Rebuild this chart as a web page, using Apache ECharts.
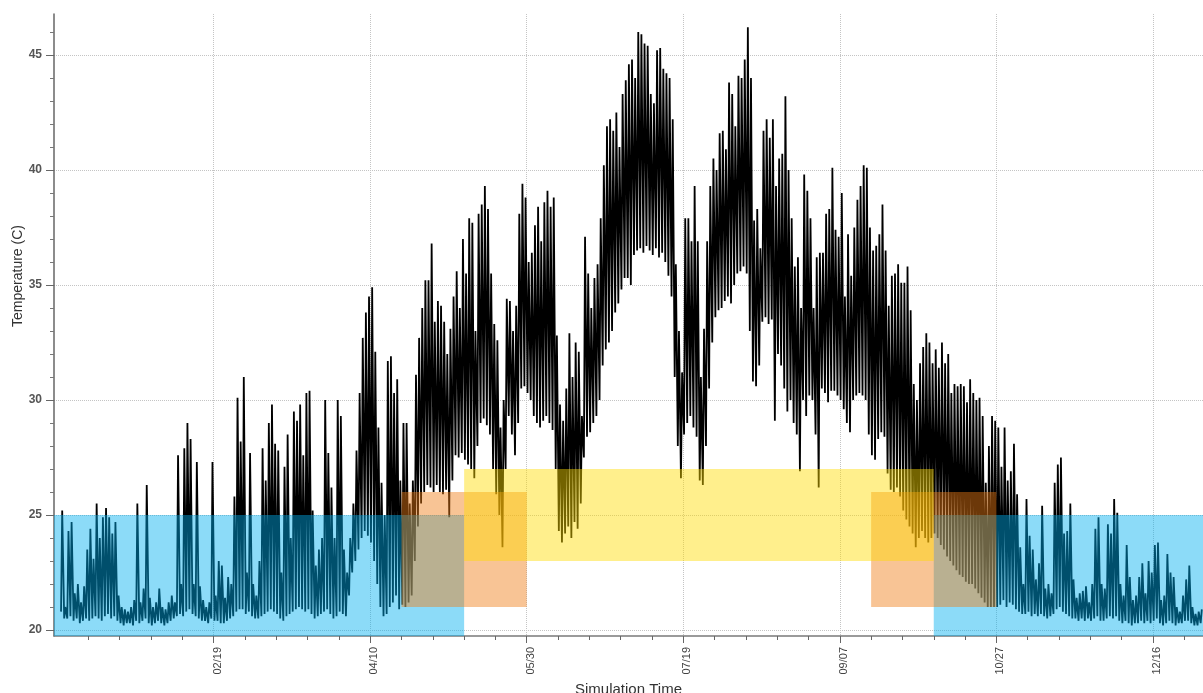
<!DOCTYPE html>
<html>
<head>
<meta charset="utf-8">
<script src="https://cdn.jsdelivr.net/npm/echarts@6/dist/echarts.min.js"></script>
<style>
  html, body { margin: 0; padding: 0; background: #ffffff; }
  #chart { width: 1203px; height: 693px; }
</style>
</head>
<body>
<div id="chart"></div>
<script>
// Zone air temperature, daily minimum and maximum (°C); index 0 = 1 January
const dailyMin = [
  20.8, 20.5, 20.5, 20.6, 20.4, 20.5, 20.3, 20.4, 20.5, 20.4,
  20.5, 20.6, 20.5, 20.4, 20.6, 20.7, 20.5, 20.6, 20.4, 20.3,
  20.2, 20.3, 20.3, 20.2, 20.4, 20.3, 20.4, 20.5, 20.3, 20.2,
  20.3, 20.4, 20.3, 20.2, 20.3, 20.4, 20.5, 20.6, 20.7, 20.6,
  20.8, 20.9, 20.7, 20.6, 20.5, 20.4, 20.4, 20.3, 20.5, 20.4,
  20.4, 20.3, 20.3, 20.4, 20.5, 20.6, 20.8, 20.9, 20.9, 20.7,
  20.8, 20.6, 20.5, 20.5, 20.6, 20.7, 20.8, 20.9, 20.8, 20.7,
  20.5, 20.4, 20.6, 20.7, 20.8, 20.9, 21.0, 20.9, 20.8, 20.9,
  20.7, 20.5, 20.6, 20.7, 20.8, 20.9, 20.7, 20.5, 20.6, 20.8,
  20.7, 20.6, 21.5, 22.5, 23.0, 23.5, 24.0, 24.3, 24.1, 23.8,
  23.0, 22.0, 21.0, 20.6, 20.7, 21.0, 21.2, 21.5, 20.9, 21.1,
  21.0, 21.2, 21.5, 23.0, 24.5, 25.5, 26.0, 26.3, 26.2, 26.0,
  26.3, 26.0, 25.9, 26.1, 24.9, 26.5, 27.6, 27.5, 27.7, 27.4,
  27.2, 27.0, 26.6, 28.0, 29.0, 29.2, 28.9, 28.5, 27.0, 25.9,
  25.0, 23.6, 27.0, 29.3, 28.5, 27.6, 29.0, 30.5, 30.6, 30.3,
  30.0, 29.3, 29.0, 28.8, 29.1, 29.3, 29.0, 28.7, 27.0, 24.3,
  23.8, 24.2, 24.5, 24.0, 24.7, 24.4, 25.5, 27.5, 28.4, 28.6,
  29.0, 29.3, 30.0, 31.5, 32.2, 32.5, 33.0, 33.8, 34.2, 34.8,
  35.3, 35.3, 35.0, 36.3, 36.5, 36.6, 36.4, 36.7, 36.5, 36.3,
  36.6, 36.2, 36.4, 36.0, 35.4, 34.5, 31.0, 28.0, 26.6, 28.5,
  29.0, 29.3, 28.8, 28.4, 26.5, 26.3, 28.0, 30.5, 32.5, 33.6,
  33.9, 34.0, 34.3, 34.5, 34.2, 35.0, 35.5, 35.6, 35.8, 35.5,
  33.0, 30.8, 30.6, 31.5, 33.4, 33.6, 33.3, 33.5, 29.1, 32.0,
  31.5, 30.5, 29.5, 30.0, 29.0, 28.5, 26.9, 30.0, 29.3, 30.2,
  30.0, 28.5, 26.2, 30.5, 30.3, 29.9, 30.4, 30.4, 30.2, 30.0,
  29.6, 29.0, 28.6, 30.0, 30.2, 30.3, 30.2, 30.0, 28.5, 27.6,
  27.4, 28.3, 28.6, 28.4, 26.8, 26.1, 26.0, 26.2, 25.8, 25.2,
  24.8, 24.5, 24.2, 23.6, 24.0, 24.3, 24.0, 23.8, 24.0, 24.2,
  24.0, 23.7, 23.5, 23.2, 23.0, 22.8, 22.6, 22.4, 22.3, 22.1,
  22.0, 22.0, 21.8, 21.6, 21.4, 21.2, 21.0, 21.0, 21.0, 21.0,
  21.1, 21.3, 21.0, 21.2, 21.1, 20.9, 20.8, 20.7, 20.7, 20.8,
  20.6, 20.7, 20.6, 20.7, 20.6, 20.5, 20.6, 20.7, 20.9, 21.0,
  20.8, 20.7, 20.6, 20.5, 20.5, 20.4, 20.5, 20.4, 20.5, 20.4,
  20.5, 20.6, 20.4, 20.4, 20.5, 20.6, 20.5, 20.6, 20.4, 20.3,
  20.4, 20.3, 20.2, 20.3, 20.3, 20.4, 20.3, 20.4, 20.3, 20.4,
  20.5, 20.3, 20.2, 20.3, 20.4, 20.3, 20.2, 20.3, 20.3, 20.4,
  20.4, 20.3, 20.2, 20.2, 20.3
];

const dailyMax = [
  25.2, 21.0, 24.3, 24.7, 21.6, 22.0, 21.2, 21.9, 23.5, 24.4,
  23.1, 25.5, 24.0, 24.9, 25.3, 24.9, 24.2, 24.7, 21.5, 21.0,
  20.9, 20.8, 21.0, 21.3, 25.5, 21.2, 21.8, 26.3, 21.4, 21.0,
  21.2, 21.8, 21.0, 20.9, 21.2, 21.5, 21.2, 27.6, 22.0, 27.9,
  29.0, 28.3, 22.0, 27.3, 21.9, 21.3, 21.0, 21.2, 27.3, 21.5,
  23.0, 22.8, 21.4, 22.3, 22.0, 25.8, 30.1, 28.2, 31.0, 22.5,
  27.7, 22.0, 21.5, 23.0, 27.9, 26.5, 29.0, 29.8, 28.1, 27.8,
  22.5, 27.1, 28.5, 24.0, 29.5, 29.1, 29.8, 27.6, 30.3, 30.4,
  25.2, 22.8, 23.5, 24.0, 30.0, 27.7, 26.2, 24.0, 30.0, 29.3,
  23.5, 22.5, 24.0, 25.5, 27.8, 30.3, 32.7, 33.8, 34.5, 34.9,
  32.1, 28.8, 26.4, 25.0, 31.7, 31.9, 30.3, 30.9, 26.5, 29.0,
  29.0, 25.5, 26.5, 31.1, 32.7, 34.0, 35.2, 35.2, 36.8, 33.4,
  34.3, 34.1, 33.4, 32.0, 33.1, 34.5, 35.6, 34.0, 37.0, 35.5,
  37.9, 37.7, 33.0, 38.1, 38.5, 39.3, 38.3, 35.5, 33.3, 32.6,
  28.8, 30.0, 34.4, 34.3, 33.0, 34.1, 38.1, 39.4, 38.8, 36.0,
  36.4, 37.6, 38.4, 36.9, 38.6, 39.1, 38.4, 38.8, 32.8, 29.8,
  29.1, 30.5, 32.9, 31.0, 32.5, 32.1, 29.3, 37.1, 35.5, 34.0,
  35.3, 35.9, 37.9, 40.2, 41.9, 42.2, 41.7, 42.5, 41.0, 43.3,
  43.9, 44.6, 44.8, 44.0, 46.0, 45.9, 45.5, 45.4, 43.3, 42.9,
  45.2, 45.3, 44.4, 44.2, 44.0, 42.2, 35.9, 33.0, 31.2, 37.9,
  37.9, 36.9, 39.3, 36.9, 31.0, 33.1, 36.9, 39.3, 40.5, 40.0,
  41.6, 41.7, 40.9, 43.8, 43.3, 41.9, 44.1, 44.0, 44.8, 46.2,
  44.0, 37.8, 38.3, 36.6, 41.7, 42.2, 41.4, 42.2, 39.3, 40.5,
  40.7, 43.2, 40.0, 37.9, 35.8, 36.2, 34.0, 39.8, 39.1, 37.9,
  34.0, 36.2, 36.4, 36.4, 38.1, 38.3, 40.1, 37.4, 37.1, 39.0,
  34.5, 37.2, 35.4, 37.5, 38.7, 39.3, 40.2, 40.1, 37.5, 36.5,
  36.7, 37.2, 38.5, 36.5, 34.1, 35.4, 35.5, 35.9, 35.1, 35.1,
  35.8, 33.9, 30.7, 30.0, 31.6, 32.3, 32.9, 32.5, 31.6, 32.2,
  31.4, 32.5, 31.6, 32.0, 30.3, 30.7, 30.6, 30.7, 30.6, 29.9,
  30.9, 30.3, 30.0, 30.1, 29.3, 26.4, 28.0, 29.3, 29.1, 28.8,
  27.1, 28.8, 26.5, 26.9, 28.1, 25.9, 23.6, 22.0, 25.7, 24.1,
  23.5, 22.2, 22.9, 25.4, 21.8, 22.0, 21.6, 26.4, 27.2, 27.5,
  24.2, 24.3, 25.5, 22.2, 21.4, 21.6, 21.7, 21.9, 21.2, 22.0,
  24.4, 24.9, 22.0, 21.8, 24.6, 24.2, 25.7, 25.1, 22.0, 21.5,
  23.7, 22.3, 21.3, 21.5, 22.3, 22.9, 21.6, 23.0, 22.5, 23.7,
  23.8, 21.3, 21.5, 23.3, 22.5, 22.3, 21.0, 20.8, 21.5, 22.2,
  22.8, 21.0, 20.7, 20.8, 20.9
];

// Time axis in days since 1 January 00:00
const X_MIN = -2;
const X_MAX = 365;
const xTickDays = [49, 99, 149, 199, 249, 299, 349];
const xTickLabels = ['02/19', '04/10', '05/30', '07/19', '09/07', '10/27', '12/16'];
const xMinorDays = [9, 19, 29, 39, 59, 69, 79, 89, 109, 119, 129, 139, 159, 169, 179, 189,
  209, 219, 229, 239, 259, 269, 279, 289, 309, 319, 329, 339, 359];

// Temperature axis (°C)
const Y_MIN = 19.74;
const Y_MAX = 46.78;
const yTickValues = [20, 25, 30, 35, 40, 45];
const yMinorValues = [21, 22, 23, 24, 26, 27, 28, 29, 31, 32, 33, 34, 36, 37, 38, 39, 41, 42, 43, 44, 46];

// Comfort bands: [start day, end day, lower °C, upper °C]
const heatingBands = [[X_MIN, 129, Y_MIN, 25], [279, X_MAX, Y_MIN, 25]];
const transitionBands = [[109, 149, 21, 26], [259, 299, 21, 26]];
const coolingBands = [[129, 279, 23, 27]];

// Each day traced as its early-morning low followed by its afternoon high
const tempSeries = [];
for (let d = 0; d < dailyMin.length; d++) {
  tempSeries.push([d + 0.25, dailyMin[d]]);
  tempSeries.push([d + 0.62, dailyMax[d]]);
}

function bandRenderer(fill) {
  return function (params, api) {
    const p0 = api.coord([api.value(0), api.value(3)]);
    const p1 = api.coord([api.value(1), api.value(2)]);
    return {
      type: 'rect',
      shape: { x: p0[0], y: p0[1], width: p1[0] - p0[0], height: p1[1] - p0[1] },
      style: { fill: fill }
    };
  };
}

function bandSeries(name, data, fill, z) {
  return {
    name: name,
    type: 'custom',
    xAxisIndex: 0,
    yAxisIndex: 0,
    z: z,
    silent: true,
    renderItem: bandRenderer(fill),
    encode: { x: [0, 1], y: [2, 3] },
    data: data
  };
}

const FONT = '"Liberation Sans", Arial, sans-serif';
const chart = echarts.init(document.getElementById('chart'), null, { renderer: 'canvas' });

chart.setOption({
  animation: false,
  backgroundColor: '#ffffff',
  textStyle: { fontFamily: FONT },
  grid: { left: 54, right: 0, top: 14, bottom: 57, containLabel: false, outerBoundsMode: 'none' },
  xAxis: [
    {
      type: 'value', min: X_MIN, max: X_MAX, position: 'bottom',
      name: 'Simulation Time', nameLocation: 'middle', nameGap: 43,
      nameTextStyle: { fontSize: 15, color: '#333', fontFamily: FONT },
      axisLine: { show: true, onZero: false, lineStyle: { color: '#7a7a7a', width: 1.5 } },
      axisTick: { show: true, length: 7, customValues: xTickDays, lineStyle: { color: '#666', width: 1 } },
      axisLabel: {
        show: true, customValues: xTickDays, rotate: 90, margin: 11,
        fontSize: 11, color: '#444', fontFamily: FONT,
        verticalAlign: 'top', lineHeight: 8,
        formatter: function (v) {
          const i = xTickDays.indexOf(Math.round(v));
          return i >= 0 ? xTickLabels[i] : '';
        }
      },
      splitLine: { show: true, lineStyle: { type: 'dotted', color: '#c4c4c4', width: 1 } }
    },
    {
      type: 'value', min: X_MIN, max: X_MAX, position: 'bottom', offset: 0,
      axisLine: { show: false, onZero: false },
      axisTick: { show: true, length: 4, customValues: xMinorDays, lineStyle: { color: '#666', width: 1 } },
      axisLabel: { show: false },
      splitLine: { show: false }
    }
  ],
  yAxis: [
    {
      type: 'value', min: Y_MIN, max: Y_MAX, position: 'left',
      axisLine: { show: true, onZero: false, lineStyle: { color: '#666', width: 1.5 } },
      axisTick: { show: true, length: 8, customValues: yTickValues, lineStyle: { color: '#666', width: 1 } },
      axisLabel: {
        show: true, customValues: yTickValues, margin: 12,
        fontSize: 12, fontWeight: 'bold', color: '#555', fontFamily: FONT
      },
      splitLine: { show: true, lineStyle: { type: 'dotted', color: '#c4c4c4', width: 1 } }
    },
    {
      type: 'value', min: Y_MIN, max: Y_MAX, position: 'left', offset: 0,
      axisLine: { show: false, onZero: false },
      axisTick: { show: true, length: 4, customValues: yMinorValues, lineStyle: { color: '#777', width: 1 } },
      axisLabel: { show: false },
      splitLine: { show: false }
    }
  ],
  graphic: [
    {
      type: 'text', x: 18, y: 276, rotation: Math.PI / 2, silent: true,
      style: { text: 'Temperature (C)', fontSize: 14, fill: '#333', fontFamily: FONT, align: 'center', verticalAlign: 'middle' }
    }
  ],
  series: [
    {
      name: 'Zone temperature',
      type: 'line',
      xAxisIndex: 0,
      yAxisIndex: 0,
      z: 2,
      showSymbol: false,
      symbol: 'none',
      silent: true,
      sampling: null,
      lineStyle: { color: '#000000', width: 1.8 },
      data: tempSeries
    },
    bandSeries('Heating comfort', heatingBands, 'rgba(0, 176, 240, 0.45)', 5),
    bandSeries('Transition comfort', transitionBands, 'rgba(240, 125, 20, 0.45)', 6),
    bandSeries('Cooling comfort', coolingBands, 'rgba(255, 220, 0, 0.45)', 7)
  ]
});
</script>
</body>
</html>
